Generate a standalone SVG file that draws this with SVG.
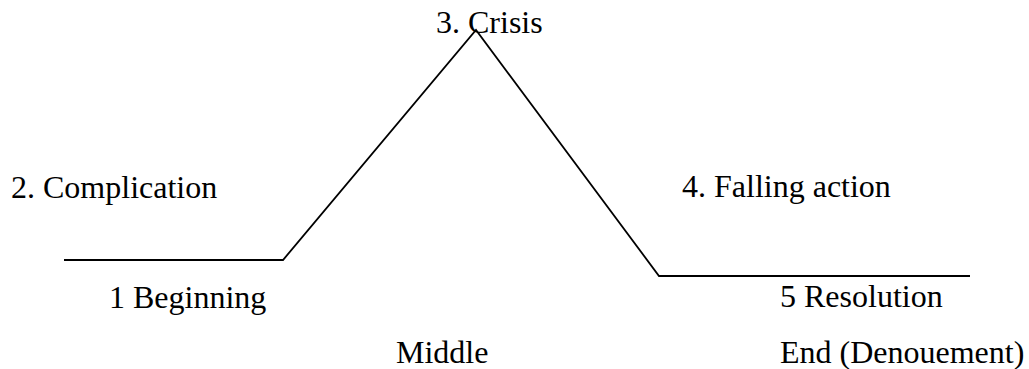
<svg xmlns="http://www.w3.org/2000/svg" width="1029" height="369" viewBox="0 0 1029 369">
<style>
.t{font-family:"Liberation Serif","Times New Roman",serif;font-size:32px;fill:#000}
.l{fill:none;stroke:#000;stroke-width:1.8}
</style>
<rect width="1029" height="369" fill="#fff"/>
<g id="connectors">
<polyline class="l" points="64,260 283,260 476,30 659,276 970,276"/>
</g>
<g id="crisis"><text class="t" x="436" y="33">3. Crisis</text></g>
<g id="complication"><text class="t" x="11" y="198">2. Complication</text></g>
<g id="beginning"><text class="t" x="109" y="308">1 Beginning</text></g>
<g id="falling"><text class="t" x="682" y="197">4. Falling action</text></g>
<g id="resolution"><text class="t" x="780" y="307">5 Resolution</text></g>
<g id="middle"><text class="t" x="396" y="363">Middle</text></g>
<g id="end"><text class="t" x="780" y="363">End (Denouement)</text></g>
</svg>
